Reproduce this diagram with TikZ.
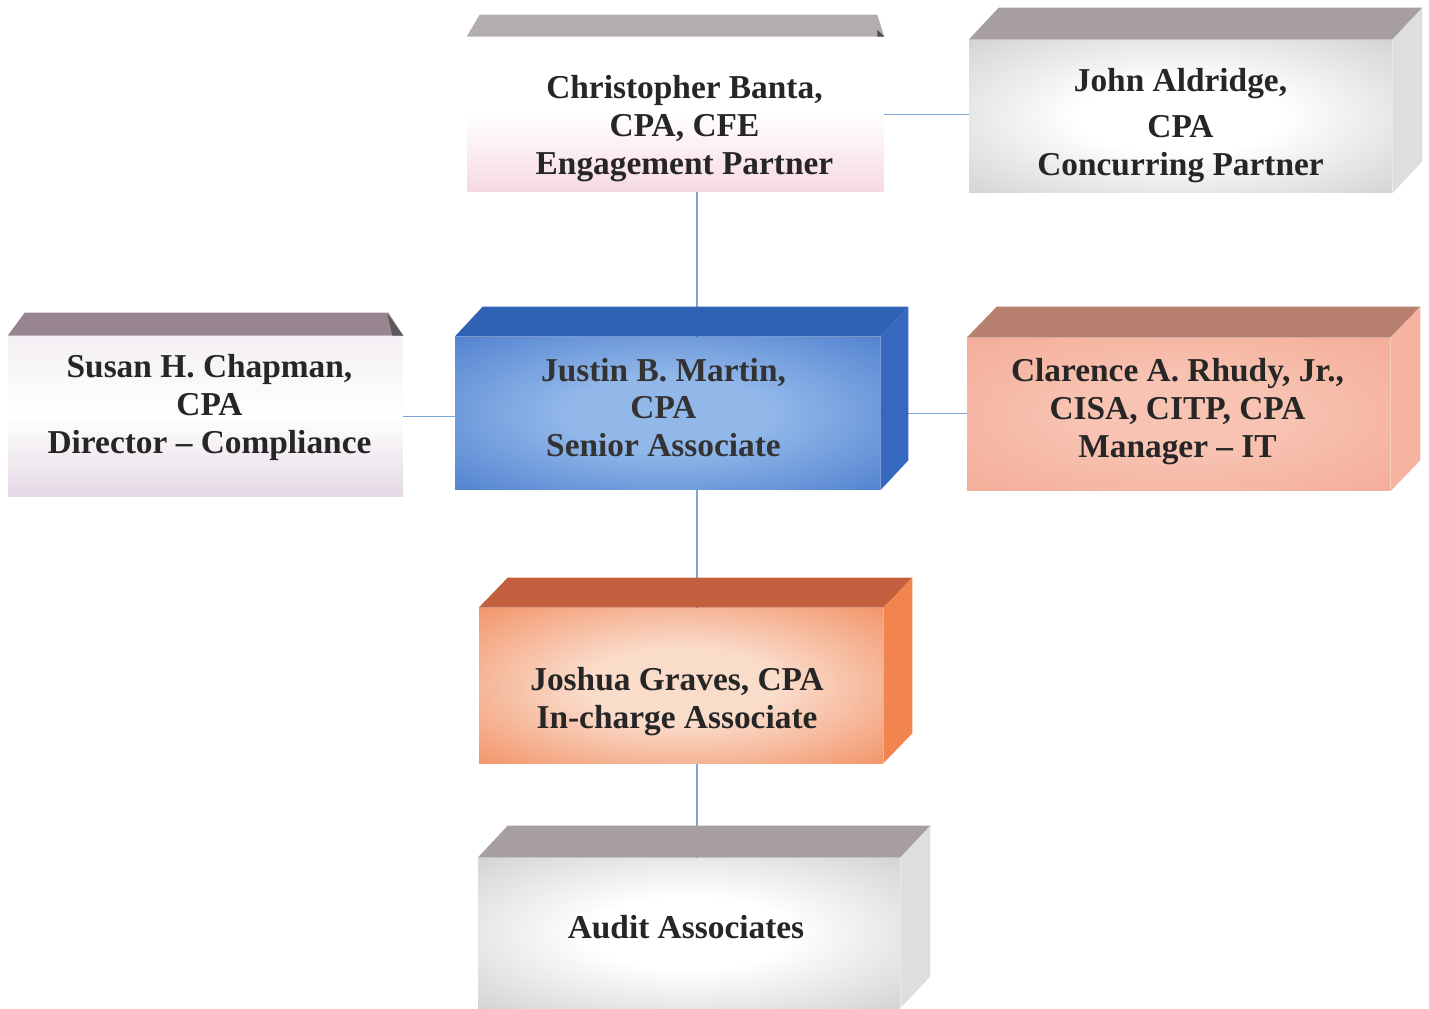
\documentclass[tikz,border=0pt]{standalone}
\usepackage{fontspec}
\setmainfont{Liberation Serif}
\usetikzlibrary{positioning,calc,backgrounds}

% box colours: front glow (in/out), top face, side face
\definecolor{linkblue}{HTML}{7EA5D7}
\definecolor{bantapink}{HTML}{F6D9E1}
\definecolor{bantatop}{HTML}{B3ACB0}
\definecolor{chapmanlow}{HTML}{E3D8E4}
\definecolor{chapmantop}{HTML}{998591}
\definecolor{greyout}{HTML}{C2C2C2}
\definecolor{greytop}{HTML}{A69EA1}
\definecolor{greyside}{HTML}{DEDEDE}
\definecolor{bluein}{HTML}{92B8EA}
\definecolor{blueout}{HTML}{3A6EC5}
\definecolor{bluetop}{HTML}{2F61B5}
\definecolor{blueside}{HTML}{3668C0}
\definecolor{salmonin}{HTML}{F8C3B2}
\definecolor{salmonout}{HTML}{F2A48E}
\definecolor{salmontop}{HTML}{B8806F}
\definecolor{salmonside}{HTML}{F5B3A0}
\definecolor{orangein}{HTML}{FADCCB}
\definecolor{orangeout}{HTML}{EF7944}
\definecolor{orangetop}{HTML}{C25F3E}
\definecolor{orangeside}{HTML}{F1844F}

\colorlet{glowin}{white}
\colorlet{glowout}{gray}
\pgfdeclareradialshading[glowin,glowout]{glow}{\pgfpointorigin}{%
  color(0bp)=(glowin); color(12bp)=(glowin); color(45bp)=(glowout); color(50bp)=(glowout)}

\tikzset{
  face/.style={rectangle, inner sep=0pt},
  tag/.style={align=center, inner sep=0pt, text=black!85,
    font=\bfseries\fontsize{19}{21.5}\selectfont},
  glow/.style 2 args={/utils/exec={\colorlet{glowin}{#1}\colorlet{glowout}{#2}}, shading=glow},
  link/.style={draw=linkblue, line width=0.9pt},
}

% top and right faces of a box: node, dx, dy, top colour, side colour
\newcommand{\cuboid}[5]{%
  \fill[#4] (#1.north west) -- ++(#2,-#3) -- ($(#1.north east)+(#2,-#3)$) -- (#1.north east) -- cycle;
  \fill[#5] (#1.north east) -- ++(#2,-#3) -- ($(#1.south east)+(#2,-#3)$) -- (#1.south east) -- cycle;
}

\begin{document}
\begin{tikzpicture}[x=0.02cm, y=-0.02cm]
  \useasboundingbox (0,0) rectangle (1429,1008);

  % partners
  \node[face, minimum width=8.34cm, minimum height=3.1cm,
        top color=white, bottom color=bantapink, middle color=white,
        label={[tag, shift={(9,14)}]center:{Christopher Banta,\\CPA, CFE\\Engagement Partner}}]
    (banta) at (675.5,114.5) {};
  \node[face, minimum width=8.46cm, minimum height=3.06cm, glow={white}{greyout},
        label={[tag, shift={(0,9)}]center:{John Aldridge,\\[4.8pt]CPA\\Concurring Partner}}]
    (aldridge) at (1180.5,116.5) {};

  % middle row
  \node[face, minimum width=7.9cm, minimum height=3.22cm,
        top color=white!60!chapmanlow, bottom color=chapmanlow, middle color=white,
        label={[tag, shift={(4,-9)}]center:{Susan H. Chapman,\\CPA\\Director – Compliance}}]
    (chapman) at (205.5,416.5) {};
  \node[face, minimum width=8.5cm, minimum height=3.06cm, glow={bluein}{blueout},
        label={[tag, text=black!80, shift={(-4,-6)}]center:{Justin B. Martin,\\CPA\\Senior Associate}}]
    (martin) at (667.5,413.5) {};
  \node[face, minimum width=8.46cm, minimum height=3.06cm, glow={salmonin}{salmonout},
        label={[tag, shift={(-1,-3)}]center:{Clarence A. Rhudy, Jr.,\\CISA, CITP, CPA\\Manager – IT}}]
    (rhudy) at (1178.5,414.5) {};

  % staff
  \node[face, minimum width=8.08cm, minimum height=3.1cm, glow={orangein}{orangeout},
        label={[tag, shift={(-4,16)}]center:{Joshua Graves, CPA\\In-charge Associate}}]
    (graves) at (681,685.5) {};
  \node[face, minimum width=8.44cm, minimum height=3.0cm, glow={white}{greyout},
        label={[tag, shift={(-3,-6)}]center:{Audit Associates}}]
    (audit) at (689,933) {};

  % flat tops on the two pale boxes
  \fill[bantatop] (banta.north west) -- ++(13,-22) -- ($(banta.north east)+(-7,-22)$) -- (banta.north east) -- cycle;
  \fill[black!70] ($(banta.north east)+(-7,-7)$) -- (banta.north east) -- ++(-7,0) -- cycle;
  \fill[chapmantop] (chapman.north west) -- ++(17,-23) -- ($(chapman.north east)+(-15,-23)$) -- (chapman.north east) -- cycle;
  \fill[black!65] ($(chapman.north east)+(-16,-22)$) -- (chapman.north east) -- ++(-11,0) -- cycle;

  % solid boxes
  \cuboid{aldridge}{30}{32}{greytop}{greyside}
  \cuboid{martin}{28}{30}{bluetop}{blueside}
  \cuboid{rhudy}{30}{31}{salmontop}{salmonside}
  \cuboid{graves}{29}{30}{orangetop}{orangeside}
  \cuboid{audit}{30}{32}{greytop}{greyside}

  % reporting lines
  \coordinate (spine) at (697,0);
  \begin{scope}[on background layer]
    \draw[link] (banta.south -| spine) -- (martin.north -| spine);
    \draw[link] (martin.south -| spine) -- (graves.north -| spine);
    \draw[link] (graves.south -| spine) -- (audit.north -| spine);
    \draw[link] (banta.east) -- (banta.east -| aldridge.west);
    \draw[link] (chapman.east) -- (chapman.east -| martin.west);
    \draw[link] (martin.east) -- (martin.east -| rhudy.west);
  \end{scope}
\end{tikzpicture}
\end{document}
